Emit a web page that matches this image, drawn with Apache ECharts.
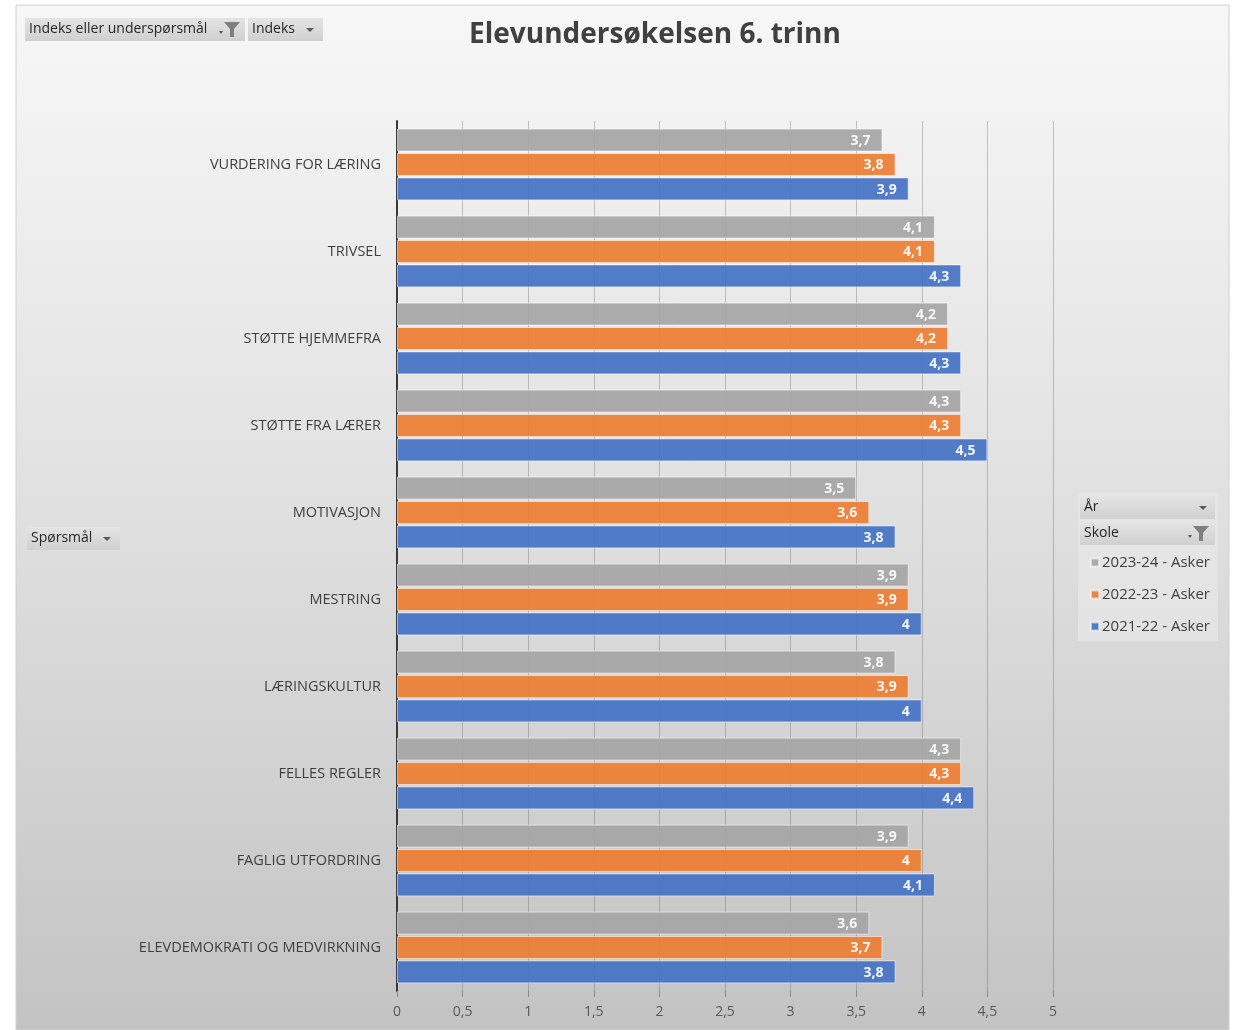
<!DOCTYPE html>
<html><head><meta charset="utf-8">
<script src="https://cdn.jsdelivr.net/npm/echarts@6/dist/echarts.min.js"></script>
<style>html,body{margin:0;padding:0;background:#fff}#c{width:1240px;height:1030px}</style>
</head><body><div id="c"></div>
<script>
const categories = ['VURDERING FOR LÆRING','TRIVSEL','STØTTE HJEMMEFRA','STØTTE FRA LÆRER','MOTIVASJON','MESTRING','LÆRINGSKULTUR','FELLES REGLER','FAGLIG UTFORDRING','ELEVDEMOKRATI OG MEDVIRKNING'];
const s2023 = [3.7,4.1,4.2,4.3,3.5,3.9,3.8,4.3,3.9,3.6];
const s2022 = [3.8,4.1,4.2,4.3,3.6,3.9,3.9,4.3,4.0,3.7];
const s2021 = [3.9,4.3,4.3,4.5,3.8,4.0,4.0,4.4,4.1,3.8];
const seriesNames = ['2023-24 - Asker','2022-23 - Asker','2021-22 - Asker'];
const colors = ['#a5a5a5','#ed7d31','#4472c4'];
const FONT = '"Open Sans", "Noto Sans", sans-serif';

const chart = echarts.init(document.getElementById('c'), null, {renderer:'canvas'});
const fmt = v => String(v.value).replace('.', ',');

function funnel(x, y) {
  return [
    {type:'polygon', shape:{points:[[x-5,y+9],[x-1,y+9],[x-3,y+12]]}, style:{fill:'#595959'}},
    {type:'polygon', shape:{points:[[x,y],[x+16,y],[x+10,y+7],[x+10,y+15],[x+6,y+15],[x+6,y+7]]}, style:{fill:'#7f7f7f'}}
  ];
}
function caret(x, y) {
  return {type:'polygon', shape:{points:[[x,y],[x+8,y],[x+4,y+4]]}, style:{fill:'#595959'}};
}
function button(x, y, w, h, text) {
  return [
    {type:'rect', shape:{x:x,y:y,width:w,height:h}, style:{fill:{type:'linear',x:0,y:0,x2:0,y2:1,colorStops:[{offset:0,color:'#e4e4e4'},{offset:1,color:'#d0d0d0'}]}}},
    {type:'text', x:x+4, y:y+h/2, style:{text:text, fill:'#262626', font:'14px '+FONT, verticalAlign:'middle'}}
  ];
}

const graphics = [
  {type:'rect', z:-10, shape:{x:16,y:5,width:1213,height:1025},
   style:{fill:{type:'linear',x:0,y:0,x2:0,y2:1,colorStops:[{offset:0,color:'#f7f7f7'},{offset:0.45,color:'#e2e2e2'},{offset:1,color:'#c3c3c3'}]}, stroke:'#d0d0d0', lineWidth:1}},
  ...button(25,18,220,23,'Indeks eller underspørsmål'),
  ...funnel(224,22),
  ...button(248,18,75,23,'Indeks'),
  caret(306,28),
  ...button(27,527,93,23,'Spørsmål'),
  caret(103,537),
  {type:'rect', shape:{x:1078,y:493,width:140,height:148}, style:{fill:'rgba(235,235,235,0.55)'}},
  ...button(1080,496,135,23,'År'),
  caret(1199,506),
  ...button(1080,522,135,23,'Skole'),
  ...funnel(1193,526)
];

chart.setOption({
  animation:false,
  title:{text:'Elevundersøkelsen 6. trinn', left:650, textAlign:'center', top:16,
    textStyle:{fontFamily:FONT, fontSize:28, fontWeight:'bold', color:'#404040'}},
  legend:{orient:'vertical', left:1085, top:550, itemGap:17, itemWidth:8, itemHeight:8, icon:'rect',
    data:seriesNames, textStyle:{fontFamily:FONT, fontSize:15, color:'#404040', padding:[0,0,0,-2]}},
  grid:{left:397, right:187, top:121, bottom:39, containLabel:false},
  xAxis:{type:'value', min:0, max:5, interval:0.5,
    axisLine:{show:false},
    axisTick:{show:true, length:6, lineStyle:{color:'#8a8a8a'}},
    splitLine:{show:true, lineStyle:{color:'rgba(80,80,80,0.3)', width:1}},
    axisLabel:{fontFamily:FONT, fontSize:14, color:'#595959', margin:14,
      formatter:v => String(v).replace('.', ',')}},
  yAxis:{type:'category', data:categories, inverse:true,
    axisLine:{show:true, lineStyle:{color:'#3a3a3a', width:2}},
    axisTick:{show:false},
    axisLabel:{fontFamily:FONT, fontSize:14.5, color:'#404040', margin:16}},
  graphic:graphics,
  series:[s2023, s2022, s2021].map((d, i) => ({
    name:seriesNames[i], type:'bar', data:d, barWidth:23, barGap:'6%',
    itemStyle:{color:colors[i], borderColor:'rgba(255,255,255,0.6)', borderWidth:1, opacity:0.92},
    label:{show:true, position:'insideRight', distance:10, offset:[-2,1], formatter:fmt,
      fontFamily:FONT, fontSize:14, fontWeight:'bold', color:'#ffffff'}
  }))
});
</script></body></html>
